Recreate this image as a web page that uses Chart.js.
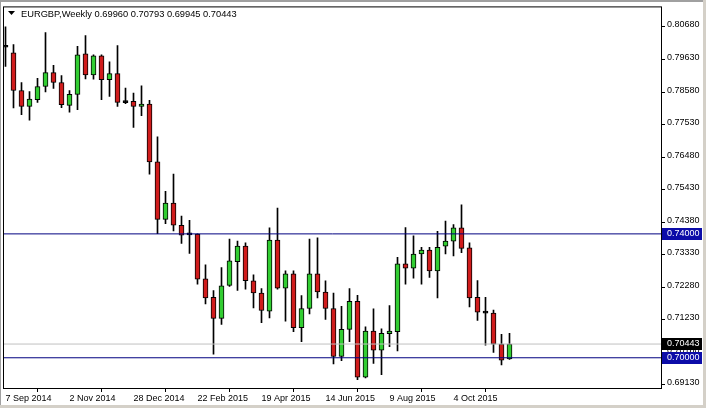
<!DOCTYPE html>
<html>
<head>
<meta charset="utf-8">
<title>EURGBP Weekly</title>
<script src="https://cdn.jsdelivr.net/npm/chart.js@4.4.1/dist/chart.umd.min.js"></script>
<style>
html, body { margin: 0; padding: 0; background: #fff; }
canvas { display: block; }
</style>
</head>
<body>
<canvas id="eurgbp" width="706" height="408"></canvas>
<script>
// weekly candles, 7 Sep 2014 .. 22 Nov 2015, one entry per week
const opens  = [0.80024, 0.79846, 0.78630, 0.78118, 0.78330, 0.78758, 0.79206, 0.78886, 0.78150, 0.78502,
                0.79814, 0.79130, 0.79750, 0.78982, 0.79174, 0.78240, 0.78278, 0.78118, 0.78192, 0.76326,
                0.74470, 0.74992, 0.74278, 0.73968, 0.73990, 0.72550, 0.71952, 0.71270, 0.72336, 0.73104,
                0.73606, 0.72486, 0.72090, 0.71504, 0.73798, 0.72250, 0.72710, 0.70970, 0.71590, 0.72710,
                0.72122, 0.71590, 0.70042, 0.70918, 0.71824, 0.69370, 0.70864, 0.70246, 0.70778, 0.70842,
                0.73030, 0.72890, 0.73350, 0.73478, 0.72806, 0.73606, 0.73766, 0.74192, 0.73552, 0.71952,
                0.71440, 0.71440, 0.70438, 0.69960];
const highs  = [0.80688, 0.80112, 0.78886, 0.78598, 0.79024, 0.80496, 0.79440, 0.79110, 0.78630, 0.80058,
                0.80400, 0.79782, 0.79782, 0.79558, 0.80080, 0.78704, 0.78544, 0.78778, 0.78310, 0.77136,
                0.75376, 0.75930, 0.74576, 0.74438, 0.74000, 0.72998, 0.72166, 0.72912, 0.73830, 0.73766,
                0.73712, 0.72678, 0.72230, 0.74192, 0.74832, 0.72806, 0.72806, 0.72006, 0.73830, 0.73872,
                0.72486, 0.72090, 0.71664, 0.72230, 0.72016, 0.71002, 0.71578, 0.70938, 0.71686, 0.73242,
                0.74202, 0.73936, 0.73562, 0.73562, 0.74086, 0.74416, 0.74298, 0.74938, 0.73712, 0.72496,
                0.71952, 0.71536, 0.70758, 0.70793];
const lows   = [0.79408, 0.78064, 0.77850, 0.77670, 0.78246, 0.78586, 0.78694, 0.78074, 0.77926, 0.78010,
                0.79002, 0.78992, 0.78330, 0.78438, 0.78118, 0.78202, 0.77434, 0.77818, 0.75930, 0.74010,
                0.74330, 0.74096, 0.73690, 0.73370, 0.72378, 0.71738, 0.70118, 0.71078, 0.72304, 0.72176,
                0.72218, 0.71610, 0.71130, 0.71290, 0.72218, 0.71184, 0.70842, 0.70522, 0.71418, 0.71930,
                0.71238, 0.69798, 0.69904, 0.70522, 0.69296, 0.69350, 0.69818, 0.69456, 0.70362, 0.70224,
                0.72378, 0.72570, 0.72378, 0.72592, 0.71930, 0.73350, 0.73286, 0.73392, 0.71642, 0.71206,
                0.70406, 0.70170, 0.69766, 0.69945];
const closes = [0.80024, 0.78630, 0.78118, 0.78352, 0.78758, 0.79206, 0.78886, 0.78170, 0.78502, 0.79782,
                0.79130, 0.79750, 0.78982, 0.79174, 0.78246, 0.78240, 0.78118, 0.78192, 0.76326, 0.74470,
                0.74992, 0.74278, 0.73958, 0.73968, 0.72538, 0.71930, 0.71270, 0.72326, 0.73126, 0.73606,
                0.72486, 0.72090, 0.71526, 0.73798, 0.72250, 0.72710, 0.70970, 0.71590, 0.72710, 0.72122,
                0.71590, 0.70042, 0.70918, 0.71824, 0.69370, 0.70864, 0.70246, 0.70790, 0.70864, 0.73030,
                0.72890, 0.73350, 0.73478, 0.72806, 0.73562, 0.73766, 0.74192, 0.73530, 0.71930, 0.71472,
                0.71440, 0.70438, 0.69926, 0.70443];

// x axis labels every 8 weeks
const dateLabels = ['7 Sep 2014', '2 Nov 2014', '28 Dec 2014', '22 Feb 2015',
                    '19 Apr 2015', '14 Jun 2015', '9 Aug 2015', '4 Oct 2015'];
const priceTicks = [0.80680, 0.79630, 0.78580, 0.77530, 0.76480, 0.75430, 0.74380,
                    0.73330, 0.72280, 0.71230, 0.70180, 0.69130];
const levels = [0.74000, 0.70000];
const symbol = 'EURGBP', period = 'Weekly';

const X_MIN = -0.1875, X_MAX = 81.9375;
const last = opens.length - 1;
const lastPrice = closes[last];

const bodies = opens.map((o, i) => ({ x: i, y: [Math.min(o, closes[i]), Math.max(o, closes[i])] }));
const wicks = highs.map((h, i) => ({ x: i, y: [lows[i], h] }));
const bodyColours = opens.map((o, i) => {
    if (Math.abs(closes[i] - o) < 0.00005) return '#000000';
    return closes[i] > o ? '#32cd32' : '#d01c1c';
});

function hline(v, colour) {
    return {
        type: 'line',
        data: [{ x: X_MIN, y: v }, { x: X_MAX, y: v }],
        borderColor: colour,
        borderWidth: 1,
        pointRadius: 0,
        order: 0
    };
}

const AXIS_FONT = { family: 'Liberation Sans', size: 9 };

// frame, price boxes and the header line
const overlay = {
    id: 'overlay',
    beforeDraw(chart) {
        const ctx = chart.ctx;
        ctx.save();
        ctx.fillStyle = '#fff';
        ctx.fillRect(0, 0, chart.width, chart.height);
        ctx.fillStyle = '#a0a0a0';
        ctx.fillRect(0, 0, chart.width, 2);
        ctx.fillRect(0, 0, 1, chart.height);
        ctx.fillStyle = '#d4d0c8';
        ctx.fillRect(chart.width - 3, 0, 3, chart.height);
        ctx.fillRect(0, chart.height - 3, chart.width, 3);
        ctx.restore();
    },
    afterDraw(chart) {
        const ctx = chart.ctx, a = chart.chartArea, y = chart.scales.y;
        ctx.save();
        ctx.strokeStyle = '#000';
        ctx.lineWidth = 1;
        ctx.strokeRect(a.left - 0.5, a.top - 0.5, a.right - a.left + 1, a.bottom - a.top + 1);

        ctx.font = '9px "Liberation Sans"';
        ctx.textBaseline = 'middle';
        [[lastPrice, '#000000'], [levels[0], '#0c0ca8'], [levels[1], '#0c0ca8']].forEach(([v, c]) => {
            const py = Math.round(y.getPixelForValue(v));
            ctx.fillStyle = c;
            ctx.fillRect(a.right + 1, py - 6, 40, 12);
            ctx.fillStyle = '#fff';
            ctx.fillText(v.toFixed(5), a.right + 6, py);
        });

        // header
        ctx.fillStyle = '#000';
        ctx.beginPath();
        ctx.moveTo(8, 11);
        ctx.lineTo(15, 11);
        ctx.lineTo(11.5, 15);
        ctx.closePath();
        ctx.fill();
        ctx.font = '9.3px "Liberation Sans"';
        ctx.textBaseline = 'alphabetic';
        const ohlc = [opens[last], highs[last], lows[last], closes[last]].map(v => v.toFixed(5)).join(' ');
        ctx.fillText(symbol + ',' + period + ' ' + ohlc, 21, 16.5);
        ctx.restore();
    }
};

const ctx = document.getElementById('eurgbp');
new Chart(ctx, {
    type: 'bar',
    data: {
        datasets: [
            hline(levels[0], '#000080'),
            hline(levels[1], '#000080'),
            hline(lastPrice, '#c0c0c0'),
            {
                label: 'body',
                data: bodies,
                backgroundColor: bodyColours,
                borderColor: '#000',
                borderWidth: 1,
                borderSkipped: false,
                barThickness: 5,
                minBarLength: 2,
                grouped: false,
                order: 1
            },
            {
                label: 'wick',
                data: wicks,
                backgroundColor: '#000',
                borderWidth: 0,
                barThickness: 1,
                grouped: false,
                order: 2
            }
        ]
    },
    options: {
        responsive: false,
        animation: false,
        devicePixelRatio: 1,
        layout: { padding: { left: 4, top: 4, right: 0, bottom: 0 } },
        plugins: { legend: { display: false }, tooltip: { enabled: false } },
        scales: {
            x: {
                type: 'linear',
                min: X_MIN,
                max: X_MAX,
                offset: false,
                afterBuildTicks: s => { s.ticks = dateLabels.map((_, k) => ({ value: k * 8 })); },
                ticks: {
                    callback: v => dateLabels[Math.round(v / 8)],
                    align: 'start',
                    autoSkip: false,
                    maxRotation: 0,
                    padding: 1,
                    color: '#000',
                    font: AXIS_FONT
                },
                grid: { drawOnChartArea: false, drawTicks: true, tickLength: 4, color: '#000' },
                border: { display: false },
                afterFit: s => { s.height = 20; }
            },
            y: {
                position: 'right',
                min: 0.69024,
                max: 0.81312,
                afterBuildTicks: s => { s.ticks = priceTicks.map(v => ({ value: v })); },
                ticks: {
                    callback: v => v.toFixed(5),
                    padding: 2,
                    labelOffset: -2,
                    color: '#000',
                    font: AXIS_FONT
                },
                grid: { drawOnChartArea: false, drawTicks: true, tickLength: 4, color: '#000' },
                border: { display: false },
                afterFit: s => { s.width = 45; }
            }
        }
    },
    plugins: [overlay]
});
</script>
</body>
</html>
